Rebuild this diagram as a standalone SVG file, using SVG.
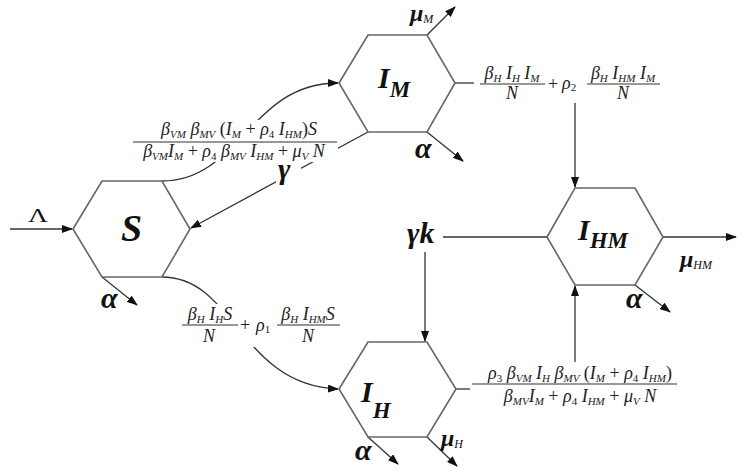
<svg xmlns="http://www.w3.org/2000/svg" width="737" height="471" viewBox="0 0 737 471">
<style>
.hex{fill:none;stroke:#666;stroke-width:1.6}
.c{fill:none;stroke:#333;stroke-width:1.3}
.ca{fill:none;stroke:#333;stroke-width:1.3;marker-end:url(#ah)}
.bg{fill:#fff}
.lab{font-family:"Liberation Serif","DejaVu Serif",serif;font-style:italic;font-weight:bold;fill:#111}
.m{font-family:"Liberation Serif","DejaVu Serif",serif;font-style:italic;font-size:18px;fill:#222}
.s{font-size:11px}
.r{font-style:normal}
.g{font-family:"Liberation Serif","DejaVu Serif",serif;font-style:italic;font-weight:bold;font-size:30px;fill:#111}
.mu{font-family:"Liberation Serif","DejaVu Serif",serif;font-style:italic;font-weight:bold;font-size:24px;fill:#111}
.ms{font-weight:normal;font-size:12px}
.bar{stroke:#333;stroke-width:1.1}
</style>
<defs>
<marker id="ah" markerWidth="11" markerHeight="8" refX="10" refY="4" orient="auto" markerUnits="userSpaceOnUse">
<path d="M0,0 L11,4 L0,8 z" fill="#111"/>
</marker>
</defs>

<g id="connectors">
<line class="ca" x1="10" y1="229" x2="72" y2="229"/>
<line class="ca" x1="102" y1="277" x2="137" y2="305"/>
<path class="ca" d="M162,181 C240,181 250,83 338,83"/>
<line class="ca" x1="368" y1="132" x2="191" y2="228"/>
<line class="ca" x1="427" y1="35" x2="455" y2="7"/>
<line class="ca" x1="427" y1="132" x2="463" y2="161"/>
<line class="c" x1="455" y1="83" x2="474" y2="83"/>
<line class="ca" x1="575" y1="103" x2="575" y2="187"/>
<line class="ca" x1="663" y1="237" x2="736" y2="237"/>
<line class="ca" x1="635" y1="285" x2="670" y2="312"/>
<line class="c" x1="443" y1="237" x2="547" y2="237"/>
<line class="ca" x1="425" y1="252" x2="425" y2="341"/>
<line class="ca" x1="575" y1="362" x2="575" y2="286"/>
<line class="c" x1="456" y1="389" x2="470" y2="389"/>
<line class="ca" x1="368" y1="437" x2="398" y2="464"/>
<line class="ca" x1="427" y1="437" x2="457" y2="466"/>
<path class="ca" d="M162,277 C235,277 240,385 338,389"/>
</g>

<g id="node-S">
<polygon class="hex" points="73,229 102,181 162,181 190,229 162,277 102,277"/>
<text class="lab" x="121" y="241" font-size="38">S</text>
</g>
<g id="node-IM">
<polygon class="hex" points="339,83 368,35 427,35 455,83 427,132 368,132"/>
<text class="lab" x="378" y="88" font-size="30">I<tspan font-size="23" dy="9">M</tspan></text>
</g>
<g id="node-IHM">
<polygon class="hex" points="547,237 575,188 635,188 663,237 635,285 575,285"/>
<text class="lab" x="578" y="240" font-size="30">I<tspan font-size="23" dy="8">HM</tspan></text>
</g>
<g id="node-IH">
<polygon class="hex" points="339,389 368,342 427,342 456,389 427,437 368,437"/>
<text class="lab" x="361" y="402" font-size="30">I<tspan font-size="23" dy="16">H</tspan></text>
</g>

<g id="labels">
<text x="28" y="222" font-family="Liberation Serif,serif" font-size="19" textLength="20" lengthAdjust="spacingAndGlyphs" fill="#111">Λ</text>
<text class="g" x="101" y="308">α</text>
<text class="g" x="415" y="158">α</text>
<text class="g" x="626" y="308">α</text>
<text class="g" x="355" y="460">α</text>
<text class="mu" x="410" y="21">μ<tspan class="ms" dy="2">M</tspan></text>
<text class="mu" x="441" y="446">μ<tspan class="ms" dy="2">H</tspan></text>
<text class="mu" x="680" y="267">μ<tspan class="ms" dy="2">HM</tspan></text>

<rect class="bg" x="133" y="120" width="205" height="42"/>
<rect class="bg" x="276" y="163" width="25" height="20"/>
<text class="g" x="278" y="179" font-size="24">γ</text>
<text class="g" x="407" y="243" font-size="22">γk</text>

<text class="m" x="239" y="135" text-anchor="middle">β<tspan class="s" dy="3">VM</tspan><tspan dy="-3"> β</tspan><tspan class="s" dy="3">MV</tspan><tspan dy="-3" class="r"> (</tspan><tspan>I</tspan><tspan class="s" dy="3">M</tspan><tspan dy="-3" class="r"> + </tspan><tspan>ρ</tspan><tspan class="s r" dy="3">4</tspan><tspan dy="-3"> I</tspan><tspan class="s" dy="3">HM</tspan><tspan dy="-3" class="r">)</tspan><tspan>S</tspan></text>
<line class="bar" x1="133" y1="142" x2="337" y2="142"/>
<text class="m" x="234" y="157" text-anchor="middle">β<tspan class="s" dy="3">VM</tspan><tspan dy="-3">I</tspan><tspan class="s" dy="3">M</tspan><tspan dy="-3" class="r"> + </tspan><tspan>ρ</tspan><tspan class="s r" dy="3">4</tspan><tspan dy="-3"> β</tspan><tspan class="s" dy="3">MV</tspan><tspan dy="-3"> I</tspan><tspan class="s" dy="3">HM</tspan><tspan dy="-3" class="r"> + </tspan><tspan>μ</tspan><tspan class="s" dy="3">V</tspan><tspan dy="-3"> N</tspan></text>

<text class="m" x="512" y="79" text-anchor="middle">β<tspan class="s" dy="3">H</tspan><tspan dy="-3"> I</tspan><tspan class="s" dy="3">H</tspan><tspan dy="-3"> I</tspan><tspan class="s" dy="3">M</tspan></text>
<line class="bar" x1="480" y1="84" x2="545" y2="84"/>
<text class="m" x="512" y="99" text-anchor="middle">N</text>
<text class="m r" x="553" y="90" text-anchor="middle">+</text>
<text class="m" x="562" y="89">ρ<tspan class="s r" dy="2">2</tspan></text>
<text class="m" x="623" y="79" text-anchor="middle">β<tspan class="s" dy="3">H</tspan><tspan dy="-3"> I</tspan><tspan class="s" dy="3">HM</tspan><tspan dy="-3"> I</tspan><tspan class="s" dy="3">M</tspan></text>
<line class="bar" x1="587" y1="84" x2="660" y2="84"/>
<text class="m" x="623" y="99" text-anchor="middle">N</text>

<rect class="bg" x="180" y="304" width="162" height="43"/>
<text class="m" x="210" y="320" text-anchor="middle">β<tspan class="s" dy="3">H</tspan><tspan dy="-3"> I</tspan><tspan class="s" dy="3">H</tspan><tspan dy="-3">S</tspan></text>
<line class="bar" x1="182" y1="325" x2="238" y2="325"/>
<text class="m" x="209" y="342" text-anchor="middle">N</text>
<text class="m r" x="245" y="331" text-anchor="middle">+</text>
<text class="m" x="256" y="331">ρ<tspan class="s r" dy="2">1</tspan></text>
<text class="m" x="308" y="320" text-anchor="middle">β<tspan class="s" dy="3">H</tspan><tspan dy="-3"> I</tspan><tspan class="s" dy="3">HM</tspan><tspan dy="-3">S</tspan></text>
<line class="bar" x1="277" y1="325" x2="340" y2="325"/>
<text class="m" x="308" y="342" text-anchor="middle">N</text>

<text class="m" x="580" y="379" text-anchor="middle">ρ<tspan class="s r" dy="3">3</tspan><tspan dy="-3"> β</tspan><tspan class="s" dy="3">VM</tspan><tspan dy="-3"> I</tspan><tspan class="s" dy="3">H</tspan><tspan dy="-3"> β</tspan><tspan class="s" dy="3">MV</tspan><tspan dy="-3" class="r"> (</tspan><tspan>I</tspan><tspan class="s" dy="3">M</tspan><tspan dy="-3" class="r"> + </tspan><tspan>ρ</tspan><tspan class="s r" dy="3">4</tspan><tspan dy="-3"> I</tspan><tspan class="s" dy="3">HM</tspan><tspan dy="-3" class="r">)</tspan></text>
<line class="bar" x1="472" y1="384" x2="677" y2="384"/>
<text class="m" x="580" y="402" text-anchor="middle">β<tspan class="s" dy="3">MV</tspan><tspan dy="-3">I</tspan><tspan class="s" dy="3">M</tspan><tspan dy="-3" class="r"> + </tspan><tspan>ρ</tspan><tspan class="s r" dy="3">4</tspan><tspan dy="-3"> I</tspan><tspan class="s" dy="3">HM</tspan><tspan dy="-3" class="r"> + </tspan><tspan>μ</tspan><tspan class="s" dy="3">V</tspan><tspan dy="-3"> N</tspan></text>
</g>
</svg>
